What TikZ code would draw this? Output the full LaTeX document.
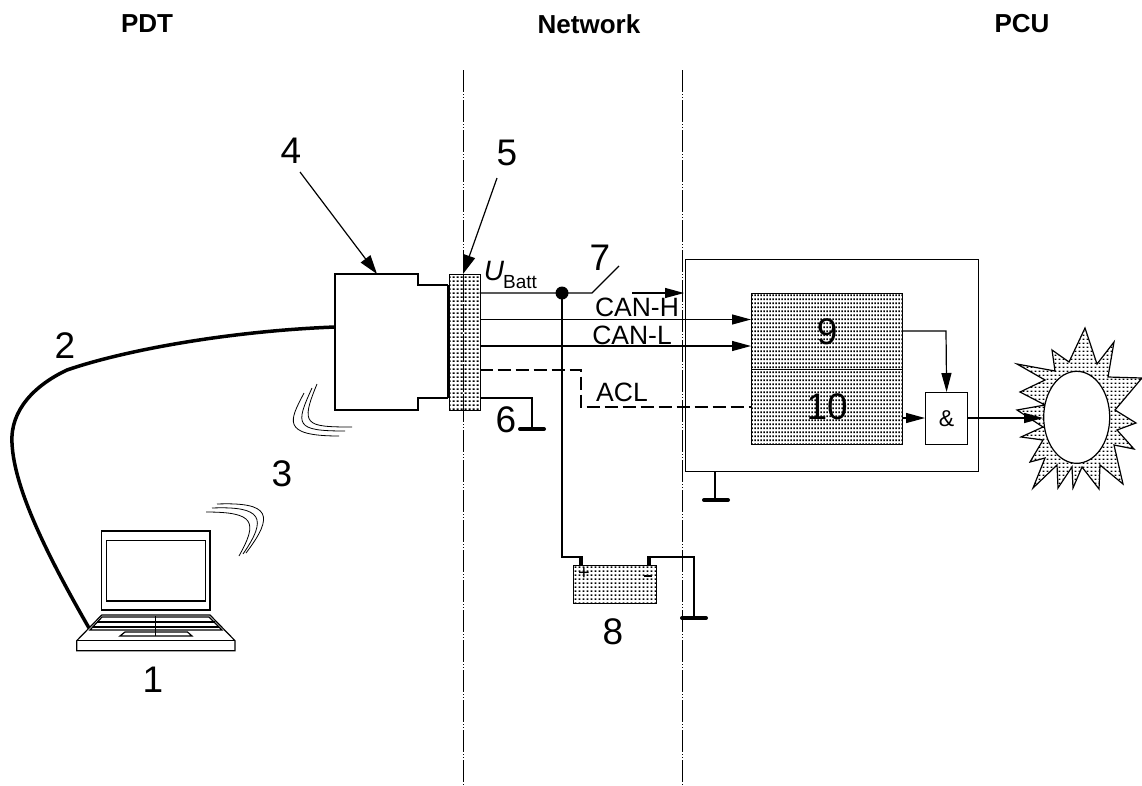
\documentclass[tikz,border=0pt]{standalone}
\usepackage{fontspec}
\setmainfont{Liberation Sans}
\usetikzlibrary{arrows.meta, patterns, shapes.geometric}

\pgfdeclarepatternformonly{coarsedots}{\pgfqpoint{0pt}{0pt}}{\pgfqpoint{3.8pt}{4.3pt}}{\pgfqpoint{3.8pt}{4.3pt}}{
  \pgfpathrectangle{\pgfqpoint{0.6pt}{1.4pt}}{\pgfqpoint{2pt}{1.5pt}}\pgfusepath{fill}}
\pgfdeclarepatternformonly{finedots}{\pgfqpoint{0pt}{0pt}}{\pgfqpoint{2.6pt}{4pt}}{\pgfqpoint{2.6pt}{4pt}}{
  \pgfpathrectangle{\pgfqpoint{0.3pt}{1.1pt}}{\pgfqpoint{1.9pt}{2pt}}\pgfusepath{fill}}

\tikzset{
  x=1pt, y=-1pt,
  wire/.style={line width=1.2pt, draw=black},
  acl/.style={wire, dash pattern=on 13pt off 5pt},
  flow/.style={wire, -{Triangle[length=19pt,width=10pt]}},
  leader/.style={wire, -{Triangle[length=19pt,width=12pt]}},
  axisline/.style={line width=0.8pt, dash pattern=on 22pt off 2pt on 1pt off 2pt on 1pt off 2pt},
  grnd/.style={line width=4pt, line cap=round},
  wave/.style={line width=0.8pt},
  num/.style={font=\fontsize{37}{37}\selectfont},
  lab/.style={font=\fontsize{26.5}{26.5}\selectfont},
  head/.style={font=\bfseries\fontsize{26}{26}\selectfont},
  coarse/.style={pattern=coarsedots},
  fine/.style={pattern=finedots},
  blockbox/.style={draw, line width=1.2pt, inner sep=0pt, anchor=north west}
}

\begin{document}
\begin{tikzpicture}
  \useasboundingbox (0,0) rectangle (1142,785);

  % Titels
  \node[head] (pdt) at (147,24) {PDT};
  \node[head] (net) at (589,24) {Network};
  \node[head] (pcu) at (1022,24) {PCU};

  % Scheidingslijnen
  \coordinate (sepAtop) at (463,70);
  \coordinate (sepAbot) at (463,785);
  \coordinate (sepBtop) at (682,70);
  \coordinate (sepBbot) at (682,785);
  \draw[axisline] (sepAtop) -- (sepAbot);
  \draw[axisline] (sepBtop) -- (sepBbot);

  % Stekker
  \draw[wire] (448,285) -- (418,285) -- (418,274) -- (335,274) -- (335,410)
    -- (418,410) -- (418,398) -- (448,398);
  \node[blockbox, coarse, minimum width=31pt, minimum height=136pt] (plug) at (448.5,274) {};
  \draw[line width=3pt] (plug.west |- 0,285) -- (plug.west |- 0,398);
  \draw[axisline] (463,274) -- (463,410);

  % Kabel
  \coordinate (cableA) at (335,327);
  \coordinate (cableB) at (89,628);
  \draw[line width=3.5pt] (cableA) .. controls (230,331) and (125,350) .. (67,370)
    .. controls (35,385) and (10,410) .. (12,443) .. controls (14,490) and (50,560) .. (cableB);

  % Laptop
  \draw[wire] (101.7,531) rectangle (210,610);
  \draw[wire] (106.7,540.7) rectangle (205.3,601);
  \draw[wire] (101.7,615) -- (210,615) -- (235,640.7) -- (235,650.7) -- (76.7,650.7)
    -- (76.7,640.7) -- (101.7,615);
  \draw[wire] (76.7,640.7) -- (235,640.7);
  \draw[wire] (102,617) -- (209,617) -- (222,630) -- (90,630) -- cycle;
  \draw[line width=2pt] (97,622) -- (215,622);
  \draw[wire] (92.5,627) -- (219,627);
  \draw[wire] (120,636) -- (125,632) -- (187.5,632) -- (192,636) -- cycle;
  \draw[line width=0.5pt] (155.7,616) -- (155.7,636);

  % Golven
  \draw[wave] (304,393) .. controls (290,420) and (280,436) .. (339,436);
  \draw[wave] (312,388) .. controls (295,425) and (295,431) .. (345,431);
  \draw[wave] (317,384) .. controls (300,425) and (305,427) .. (352,427);
  \draw[wave] (217,504) .. controls (270,502) and (275,515) .. (246,553);
  \draw[wave] (212,508) .. controls (262,506) and (268,518) .. (243,554);
  \draw[wave] (206,512) .. controls (255,512) and (258,522) .. (239,556);

  % Geleiders
  \coordinate (join) at (562,293);
  \coordinate (swA) at (592,293);
  \coordinate (swB) at (619,266);
  \coordinate (swC) at (632,293);
  \coordinate (pcuIn) at (684,293);
  \draw[wire] (479.5,293) -- (join) -- (swA) -- (swB);
  \draw[flow] (swC) -- (pcuIn);
  \fill (join) circle (6.5pt);

  % Regeleenheid
  \node[blockbox, line width=1.4pt, minimum width=293pt, minimum height=212pt] (unit) at (685,259) {};
  \node[blockbox, fine, minimum width=151pt, minimum height=76pt] (nine) at (751,293) {};
  \node[blockbox, fine, minimum width=151pt, minimum height=75pt] (ten) at (751,369) {};
  \node[blockbox, minimum width=42pt, minimum height=52pt] (gate) at (925,392) {};
  \node[num] (lnine) at (nine.center) {9};
  \node[num] (lten) at (ten.center) {10};
  \node[font=\fontsize{23}{23}\selectfont] (lgate) at (gate.center) {\&};

  \draw[flow] (479.5,319.5) -- (751,319.5);
  \draw[flow] (479.5,346) -- (751,346);
  \draw[acl] (479.5,370) -- (581,370) -- (581,407) -- (751,407);
  \draw[flow] (nine.east |- 0,331) -- (946,331) -- (gate.north);
  \draw[flow] (902,418) -- (gate.west |- 0,418);

  % Massa
  \draw[wire] (479.5,398) -- (532,398) -- (532,429);
  \draw[grnd] (520,429) -- (544,429);
  \draw[wire] (715,471) -- (715,500);
  \draw[grnd] (704,500) -- (728,500);

  % Accu
  \node[blockbox, coarse, minimum width=83pt, minimum height=38pt] (batt) at (573,565) {};
  \draw[wire] (join) -- (562,557) -- (581,557);
  \draw[line width=3.5pt] (581,556) -- (581,565);
  \draw[line width=3.5pt] (649,556) -- (649,565);
  \draw[wire] (649,557) -- (694,557) -- (694,618);
  \draw[grnd] (682,618) -- (706,618);
  \node[font=\fontsize{20}{20}\selectfont] (plus) at (584,574) {+};
  \draw[line width=2.5pt] (644,576) -- (652,576);

  % Storing
  \draw[wire, pattern=coarsedots] (1085,328) -- (1097,364) -- (1114,342) -- (1108,377)
    -- (1142,378) -- (1115,410) -- (1136,423) -- (1117,430) -- (1134,449) -- (1114,445)
    -- (1123,484) -- (1100,465) -- (1099,489) -- (1082,467) -- (1073,488) -- (1072,467)
    -- (1058,488) -- (1057,465) -- (1033,488) -- (1045,458) -- (1030,462) -- (1043,440)
    -- (1021,437) -- (1043,427) -- (1017,410) -- (1045,405) -- (1020,392) -- (1045,380)
    -- (1017,364) -- (1055,371) -- (1052,350) -- (1069,362) -- cycle;
  \node[draw, line width=1.2pt, fill=white, ellipse, minimum width=66pt, minimum height=92pt, inner sep=0pt] (spot) at (1076.7,417.3) {};
  \draw[flow] (gate.east |- 0,418) -- (spot.west |- 0,418);

  % Pijlen
  \coordinate (fourtail) at (300,172);
  \coordinate (fivetail) at (497,178);
  \draw[leader] (fourtail) -- (377,274);
  \draw[leader] (fivetail) -- (463,274);

  % Labels
  \node[num] (n1) at (153,680) {1};
  \node[num] (n2) at (65,346) {2};
  \node[num] (n3) at (282,474) {3};
  \node[num] (n4) at (291,151) {4};
  \node[num] (n5) at (507,153) {5};
  \node[num] (n6) at (506,420) {6};
  \node[num] (n7) at (600,258) {7};
  \node[num] (n8) at (613,632) {8};
  \node[font=\fontsize{28}{28}\selectfont\itshape] (ubatt) at (494,271) {U};
  \node[font=\fontsize{19}{19}\selectfont] (batttext) at (520,282) {Batt};
  \node[lab] (canh) at (637,307) {CAN-H};
  \node[lab] (canl) at (632,335) {CAN-L};
  \node[lab] (aclab) at (622,392) {ACL};
\end{tikzpicture}
\end{document}
